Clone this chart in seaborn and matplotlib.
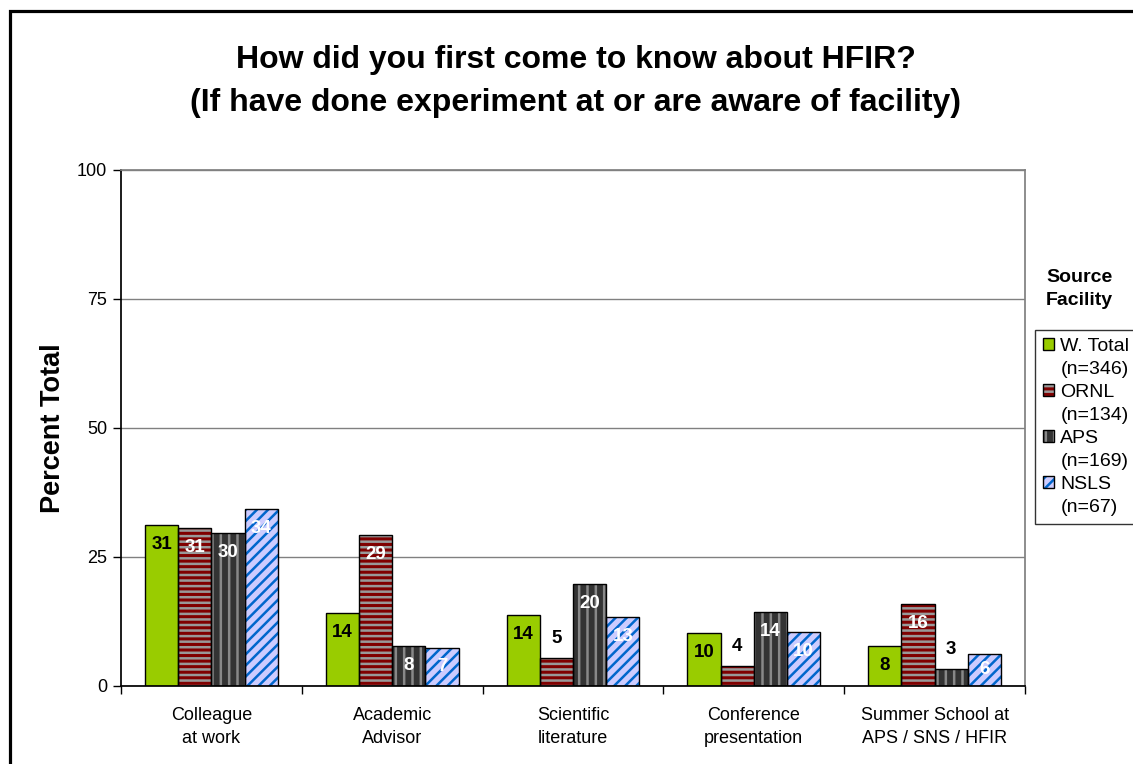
import matplotlib
matplotlib.use("Agg")
import matplotlib.pyplot as plt
import seaborn as sns
import pandas as pd
from matplotlib.patches import Rectangle, Patch
from matplotlib.legend_handler import HandlerTuple

# dados
categorias = ["Colleague\nat work", "Academic\nAdvisor", "Scientific\nliterature",
              "Conference\npresentation", "Summer School at\nAPS / SNS / HFIR"]
facilidades = ["W. Total", "ORNL", "APS", "NSLS"]
n_amostra = [346, 134, 169, 67]
w_total = [31.2, 14.1, 13.8, 10.3, 7.75]
ornl = [30.6, 29.3, 5.4, 3.9, 15.9]
aps = [29.6, 7.75, 19.8, 14.3, 3.3]
nsls = [34.3, 7.4, 13.4, 10.4, 6.2]
y_ticks = [0, 25, 50, 75, 100]

# estilos de cada serie
cores = ["#99cc00", "#800000", "#333333", "#ccccff"]
cor_hachura = ["#99cc00", "#999999", "#888888", "#0066cc"]
hachuras = ["", "---", "||", "///"]
cor_rotulo = ["black", "white", "white", "white"]

df = pd.DataFrame({
    "Categoria": categorias * 4,
    "Fonte": [f for f in facilidades for _ in categorias],
    "Percentual": w_total + ornl + aps + nsls,
})

sns.set_theme(style="white")
plt.rcParams["font.family"] = ["Liberation Sans", "DejaVu Sans"]
plt.rcParams["hatch.linewidth"] = 1.8
for k in ["text.color", "axes.labelcolor", "xtick.color", "ytick.color"]:
    plt.rcParams[k] = "black"

fig = plt.figure(figsize=(11.33, 7.64), dpi=100)
ax = fig.add_axes([0.1068, 0.1021, 0.7979, 0.6754])

sns.barplot(data=df, x="Categoria", y="Percentual", hue="Fonte",
            palette=cores, width=0.735, ax=ax, legend=False, errorbar=None)

for i, cont in enumerate(ax.containers):
    for p, v in zip(cont.patches, cont.datavalues):
        p.set_facecolor(cores[i])
        p.set_hatch(hachuras[i])
        p.set_edgecolor(cor_hachura[i])
        p.set_linewidth(0)
        ax.add_patch(Rectangle(p.get_xy(), p.get_width(), p.get_height(),
                               fill=False, ec="black", lw=1, zorder=3))
        x = p.get_x() + p.get_width() / 2
        if v < 6:
            ax.annotate(f"{v:.0f}", (x, v), xytext=(0, 14), textcoords="offset points",
                        ha="center", va="center", fontsize=13.5, fontweight="bold",
                        color="black", zorder=4)
        else:
            off = min(14, v * 5.16 * 0.72 / 2)
            ax.annotate(f"{v:.0f}", (x, v), xytext=(0, -off), textcoords="offset points",
                        ha="center", va="center", fontsize=13.5, fontweight="bold",
                        color=cor_rotulo[i], zorder=4)

ax.set_ylim(0, 100)
ax.set_xlim(-0.5, 4.5)
ax.set_yticks(y_ticks)
ax.set_yticklabels([str(t) for t in y_ticks], fontsize=13)
ax.set_xticks(range(len(categorias)))
ax.set_xticklabels(categorias, fontsize=13, linespacing=1.5)
ax.set_xticks([i - 0.5 for i in range(len(categorias) + 1)], minor=True)
ax.tick_params(axis="x", which="major", length=0, pad=15)
ax.tick_params(axis="x", which="minor", bottom=True, length=6, width=1, color="black")
ax.tick_params(axis="y", left=True, length=6, width=1, color="black", pad=4)
ax.yaxis.grid(True, color="#808080", lw=1)
ax.set_axisbelow(True)
for s in ["top", "right"]:
    ax.spines[s].set_color("#808080")
for s in ["left", "bottom"]:
    ax.spines[s].set_color("black")
ax.set_xlabel("")
ax.set_ylabel("Percent Total", fontsize=19.5, fontweight="bold", labelpad=8)

fig.text(0.508, 0.8935, "How did you first come to know about HFIR?\n(If have done experiment at or are aware of facility)",
         ha="center", va="center", fontsize=23, fontweight="bold", linespacing=1.55)

# legenda
fig.text(0.953, 0.622, "Source\nFacility", ha="center", va="center",
         fontsize=14, fontweight="bold", linespacing=1.45)
handles, rotulos = [], []
for i in range(4):
    handles.append((Patch(facecolor=cores[i], edgecolor=cor_hachura[i], hatch=hachuras[i], lw=0),
                    Patch(facecolor="none", edgecolor="black", lw=1)))
    rotulos.append(facilidades[i])
    handles.append(Patch(facecolor="none", edgecolor="none", lw=0))
    rotulos.append(f"(n={n_amostra[i]})")
leg = fig.legend(handles, rotulos, loc="upper left", bbox_to_anchor=(1035 / 1133, 1 - 330 / 764),
                 handler_map={tuple: HandlerTuple(ndivide=1)},
                 fontsize=14, frameon=True, fancybox=False, handlelength=0.6, handleheight=0.6,
                 handletextpad=0.3, borderpad=0.4, labelspacing=0.31, borderaxespad=0)
leg.get_frame().set_edgecolor("black")
leg.get_frame().set_linewidth(1)

# moldura
fig.patches.append(Rectangle((0.0088, -0.2), 1.5, 0.2 + 1 - 11.5 / 764, transform=fig.transFigure,
                             fill=False, ec="black", lw=2.3))

fig.savefig("out.png", dpi=100)
